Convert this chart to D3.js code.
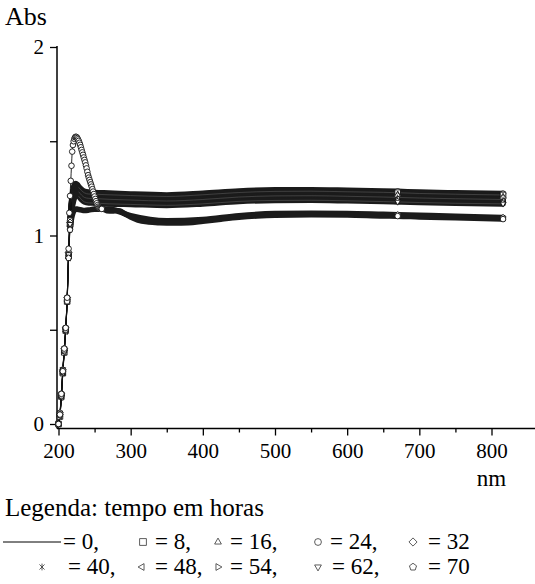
<!DOCTYPE html>
<html>
<head>
<meta charset="utf-8">
<script src="https://cdn.jsdelivr.net/npm/d3@7"></script>
</head>
<body style="margin:0">
<div id="chart"></div>
<script>
// wavelength grid (nm) shared by most series
var nmGrid = [200, 202, 204, 206, 208, 210, 212, 214, 216, 218, 220, 222, 224, 226, 228, 232, 236, 242, 250, 270, 300, 350, 400, 450, 500, 550, 600, 650, 670, 700, 750, 816];

var abs0  = [0.00, 0.05, 0.16, 0.28, 0.40, 0.51, 0.67, 0.91, 1.08, 1.18, 1.24, 1.27, 1.275, 1.27, 1.26, 1.245, 1.235, 1.23, 1.228, 1.225, 1.22, 1.215, 1.224, 1.236, 1.242, 1.243, 1.240, 1.236, 1.234, 1.230, 1.226, 1.222];
var abs8  = [0.00, 0.04, 0.15, 0.27, 0.38, 0.50, 0.65, 0.89, 1.06, 1.17, 1.23, 1.26, 1.27, 1.265, 1.255, 1.238, 1.226, 1.22, 1.219, 1.216, 1.212, 1.207, 1.216, 1.228, 1.234, 1.235, 1.232, 1.229, 1.227, 1.223, 1.219, 1.215];
var abs16 = [0.00, 0.05, 0.14, 0.27, 0.39, 0.49, 0.66, 0.90, 1.07, 1.17, 1.22, 1.255, 1.262, 1.258, 1.248, 1.23, 1.218, 1.213, 1.212, 1.208, 1.204, 1.199, 1.207, 1.220, 1.226, 1.227, 1.224, 1.221, 1.219, 1.215, 1.211, 1.207];
var abs32 = [0.00, 0.06, 0.16, 0.29, 0.40, 0.51, 0.67, 0.91, 1.07, 1.16, 1.21, 1.24, 1.252, 1.25, 1.24, 1.222, 1.21, 1.205, 1.204, 1.20, 1.196, 1.191, 1.199, 1.212, 1.218, 1.219, 1.216, 1.212, 1.210, 1.207, 1.203, 1.199];
var abs40 = [0.00, 0.05, 0.15, 0.28, 0.39, 0.50, 0.66, 0.89, 1.06, 1.16, 1.20, 1.23, 1.244, 1.242, 1.232, 1.214, 1.202, 1.197, 1.196, 1.192, 1.188, 1.183, 1.191, 1.204, 1.210, 1.211, 1.208, 1.204, 1.202, 1.199, 1.195, 1.191];
var abs48 = [0.00, 0.04, 0.14, 0.27, 0.38, 0.49, 0.65, 0.88, 1.05, 1.15, 1.19, 1.22, 1.235, 1.233, 1.224, 1.206, 1.194, 1.189, 1.188, 1.184, 1.180, 1.175, 1.183, 1.196, 1.202, 1.203, 1.200, 1.196, 1.194, 1.191, 1.187, 1.183];
var abs54 = [0.00, 0.05, 0.15, 0.28, 0.39, 0.50, 0.66, 0.90, 1.06, 1.14, 1.18, 1.21, 1.226, 1.225, 1.216, 1.198, 1.186, 1.181, 1.18, 1.176, 1.172, 1.167, 1.175, 1.188, 1.194, 1.195, 1.192, 1.188, 1.186, 1.183, 1.179, 1.175];
var abs62 = [0.00, 0.06, 0.16, 0.29, 0.40, 0.51, 0.67, 0.90, 1.06, 1.13, 1.17, 1.20, 1.217, 1.217, 1.208, 1.19, 1.178, 1.173, 1.172, 1.168, 1.165, 1.160, 1.168, 1.181, 1.186, 1.187, 1.184, 1.180, 1.178, 1.175, 1.171, 1.168];
var abs70 = [0.00, 0.05, 0.15, 0.28, 0.39, 0.50, 0.65, 0.88, 1.03, 1.09, 1.12, 1.135, 1.14, 1.14, 1.138, 1.135, 1.133, 1.135, 1.14, 1.14, 1.105, 1.078, 1.085, 1.105, 1.116, 1.118, 1.117, 1.112, 1.110, 1.107, 1.102, 1.095];

// 24 h series has its own, denser grid around the peak
var nm24 = [200, 202, 204, 206, 208, 210, 212, 214, 215, 216, 217, 218, 219, 220, 221, 222, 223, 224, 225, 226, 227, 228, 229, 230, 231, 232, 233, 234, 235, 236, 237, 238, 239, 240, 241, 242, 243, 244, 245, 246, 247, 248, 249, 250, 251, 252, 253, 254, 255, 256, 257, 258, 259, 260, 262, 267, 275, 280, 285, 292, 300, 310, 325, 340, 360, 380, 400, 425, 450, 475, 500, 550, 600, 650, 670, 700, 750, 816];
var abs24 = [0.00, 0.05, 0.16, 0.28, 0.40, 0.51, 0.67, 0.93, 1.12, 1.21, 1.29, 1.37, 1.445, 1.48, 1.50, 1.513, 1.521, 1.524, 1.522, 1.517, 1.510, 1.502, 1.492, 1.481, 1.468, 1.454, 1.441, 1.428, 1.414, 1.401, 1.388, 1.372, 1.356, 1.338, 1.320, 1.307, 1.295, 1.283, 1.271, 1.259, 1.246, 1.233, 1.220, 1.207, 1.194, 1.182, 1.171, 1.161, 1.153, 1.148, 1.145, 1.143, 1.142, 1.141, 1.140, 1.132, 1.130, 1.133, 1.130, 1.115, 1.098, 1.082, 1.072, 1.068, 1.066, 1.068, 1.076, 1.087, 1.097, 1.104, 1.108, 1.110, 1.109, 1.104, 1.103, 1.099, 1.094, 1.087];

var hours  = [0, 8, 16, 24, 32, 40, 48, 54, 62, 70];
var shapes = ["line", "square", "up", "circle", "diamond", "star", "left", "right", "down", "pentagon"];

var xTicks = [200, 300, 400, 500, 600, 700, 800];
var xMinor = [250, 350, 450, 550, 650, 750];
var yTicks = [0, 1, 2];
var yMinor = [0.5, 1.5];

var series = [
  { h: 0,  shape: "line",     nm: nmGrid, v: abs0,  bandFrom: 218 },
  { h: 8,  shape: "square",   nm: nmGrid, v: abs8,  bandFrom: 218 },
  { h: 16, shape: "up",       nm: nmGrid, v: abs16, bandFrom: 218 },
  { h: 32, shape: "diamond",  nm: nmGrid, v: abs32, bandFrom: 218 },
  { h: 40, shape: "star",     nm: nmGrid, v: abs40, bandFrom: 218 },
  { h: 48, shape: "left",     nm: nmGrid, v: abs48, bandFrom: 218 },
  { h: 54, shape: "right",    nm: nmGrid, v: abs54, bandFrom: 218 },
  { h: 62, shape: "down",     nm: nmGrid, v: abs62, bandFrom: 218 },
  { h: 70, shape: "pentagon", nm: nmGrid, v: abs70, bandFrom: 218 },
  { h: 24, shape: "circle",   nm: nm24,   v: abs24, bandFrom: 262 }
];

var W = 535, H = 584;

var x = d3.scaleLinear().domain([200, 800]).range([58.5, 491.5]);
var y = d3.scaleLinear().domain([0, 2]).range([424, 47]);
var axisX0 = 57, axisY0 = 428.5;

function poly(pts) {
  return "M" + pts.map(function(p) { return p[0].toFixed(2) + "," + p[1].toFixed(2); }).join("L") + "Z";
}
function shapePath(type, r) {
  var k = 0.866;
  switch (type) {
    case "square":  return poly([[-r, -r], [r, -r], [r, r], [-r, r]]);
    case "circle":  return "M" + r + ",0A" + r + "," + r + " 0 1,1 " + (-r) + ",0A" + r + "," + r + " 0 1,1 " + r + ",0Z";
    case "diamond": return poly([[0, -r * 1.2], [r * 1.2, 0], [0, r * 1.2], [-r * 1.2, 0]]);
    case "up":      return poly([[0, -r * 1.15], [r * 1.15 * k, r * 0.6], [-r * 1.15 * k, r * 0.6]]);
    case "down":    return poly([[0, r * 1.15], [r * 1.15 * k, -r * 0.6], [-r * 1.15 * k, -r * 0.6]]);
    case "left":    return poly([[-r * 1.15, 0], [r * 0.6, -r * 1.15 * k], [r * 0.6, r * 1.15 * k]]);
    case "right":   return poly([[r * 1.15, 0], [-r * 0.6, -r * 1.15 * k], [-r * 0.6, r * 1.15 * k]]);
    case "pentagon":
      var pts = [];
      for (var i = 0; i < 5; i++) {
        var a = -Math.PI / 2 + i * 2 * Math.PI / 5;
        pts.push([r * 1.1 * Math.cos(a), r * 1.1 * Math.sin(a)]);
      }
      return poly(pts);
    case "star":
      var d = r * 0.75;
      return "M0," + (-r) + "L0," + r + "M" + (-d) + "," + (-d) + "L" + d + "," + d + "M" + (-d) + "," + d + "L" + d + "," + (-d);
  }
  return "";
}

function txt(sel, size) {
  sel.attr("font-size", size)
     .style("font-family", "'Liberation Serif'");
}

var svg = d3.select("#chart").append("svg")
    .attr("width", W)
    .attr("height", H);

// axes
var gAxes = svg.append("g").attr("class", "axes");

gAxes.append("line")
    .attr("x1", axisX0).attr("x2", axisX0)
    .attr("y1", y(2) - 1).attr("y2", axisY0)
    .attr("stroke", "#000").attr("stroke-width", 1.5);

gAxes.append("line")
    .attr("x1", axisX0).attr("x2", W)
    .attr("y1", axisY0).attr("y2", axisY0)
    .attr("stroke", "#000").attr("stroke-width", 1.5);

var yAxis = d3.axisLeft(y).tickValues(yTicks).tickSize(7).tickPadding(6).tickFormat(d3.format("d"));
var yMinorAxis = d3.axisLeft(y).tickValues(yMinor).tickSize(7).tickFormat("");
var xAxis = d3.axisBottom(x).tickValues(xTicks).tickSize(7).tickPadding(8).tickFormat(d3.format("d"));
var xMinorAxis = d3.axisBottom(x).tickValues(xMinor).tickSize(4).tickFormat("");

function customAxis(g, axis) {
  g.call(axis);
  g.attr("font-family", null).attr("font-size", null);
  g.select(".domain").remove();
  g.selectAll(".tick line").attr("stroke", "#000").attr("stroke-width", 1.3);
  g.selectAll(".tick text").call(txt, 21);
}

gAxes.append("g").attr("transform", "translate(" + axisX0 + ",0)").call(customAxis, yAxis);
gAxes.append("g").attr("transform", "translate(" + axisX0 + ",0)").call(customAxis, yMinorAxis);
gAxes.append("g").attr("transform", "translate(0," + axisY0 + ")").call(customAxis, xAxis);
gAxes.append("g").attr("transform", "translate(0," + axisY0 + ")").call(customAxis, xMinorAxis);

svg.append("text")
    .attr("x", 5).attr("y", 25)
    .call(txt, 26)
    .text("Abs");

svg.append("text")
    .attr("x", x(800)).attr("y", 486)
    .attr("text-anchor", "middle")
    .call(txt, 23)
    .text("nm");

// data
function pts(s) {
  return s.nm.map(function(n, i) { return { nm: n, v: s.v[i] }; });
}

var line = d3.line()
    .x(function(d) { return x(d.nm); })
    .y(function(d) { return y(d.v); })
    .curve(d3.curveMonotoneX);

var gData = svg.append("g").attr("class", "data");

// dense marker bands (overlapping open symbols read as a dark band)
series.forEach(function(s) {
  var band = pts(s).filter(function(d) { return d.nm >= s.bandFrom - 2; });
  gData.append("path")
      .datum(band)
      .attr("d", line)
      .attr("fill", "none")
      .attr("stroke", "#1b1b1b")
      .attr("stroke-width", 5.6)
      .attr("stroke-linejoin", "round")
      .attr("stroke-linecap", "round");
});
series.forEach(function(s, i) {
  if (i % 3 !== 1) return;
  var band = pts(s).filter(function(d) { return d.nm >= s.bandFrom + 10; });
  gData.append("path")
      .datum(band)
      .attr("d", line)
      .attr("fill", "none")
      .attr("stroke", "#666")
      .attr("stroke-opacity", 0.55)
      .attr("stroke-width", 0.9);
});

// connecting lines
series.forEach(function(s) {
  gData.append("path")
      .datum(pts(s).filter(function(d) { return d.nm <= s.bandFrom; }))
      .attr("d", line)
      .attr("fill", "none")
      .attr("stroke", "#111")
      .attr("stroke-width", 0.9);
});

// individual markers where they do not merge into a band
series.forEach(function(s) {
  var last = s.nm[s.nm.length - 1];
  var shown = pts(s).filter(function(d) {
    return d.nm < s.bandFrom || d.nm === 670 || d.nm === last;
  });
  var type = s.shape === "line" ? "circle" : s.shape;
  gData.append("g")
      .selectAll("path")
      .data(shown)
      .enter().append("path")
      .attr("transform", function(d) { return "translate(" + x(d.nm) + "," + y(d.v) + ")"; })
      .attr("d", shapePath(type, 2.8))
      .attr("fill", type === "star" ? "none" : "#fff")
      .attr("stroke", "#111")
      .attr("stroke-width", 0.9);
});

// legend
svg.append("text")
    .attr("x", 5).attr("y", 516)
    .call(txt, 25)
    .text("Legenda: tempo em horas");

var legendRows = [
  [{ i: 0, sx: null, tx: 63, label: "= 0," }, { i: 1, sx: 143, tx: 155, label: "= 8," }, { i: 2, sx: 218, tx: 230, label: "= 16," }, { i: 3, sx: 318, tx: 330, label: "= 24," }, { i: 4, sx: 413, tx: 428, label: "= 32" }],
  [{ i: 5, sx: 42, tx: 68, label: "= 40," }, { i: 6, sx: 142, tx: 155, label: "= 48," }, { i: 7, sx: 218, tx: 230, label: "= 54," }, { i: 8, sx: 318, tx: 332, label: "= 62," }, { i: 9, sx: 413, tx: 428, label: "= 70" }]
];
var rowY = [549, 574];

legendRows.forEach(function(row, r) {
  var g = svg.append("g");
  row.forEach(function(it) {
    var shp = shapes[it.i];
    if (shp === "line") {
      g.append("line")
          .attr("x1", 3).attr("x2", 61)
          .attr("y1", rowY[r] - 7).attr("y2", rowY[r] - 7)
          .attr("stroke", "#000").attr("stroke-width", 1);
    } else {
      g.append("path")
          .attr("transform", "translate(" + it.sx + "," + (rowY[r] - 7) + ")")
          .attr("d", shapePath(shp, 3.4))
          .attr("fill", "none")
          .attr("stroke", "#333")
          .attr("stroke-width", 0.8);
    }
    g.append("text")
        .attr("x", it.tx).attr("y", rowY[r])
        .call(txt, 23)
        .text(it.label);
  });
});
</script>
</body>
</html>
